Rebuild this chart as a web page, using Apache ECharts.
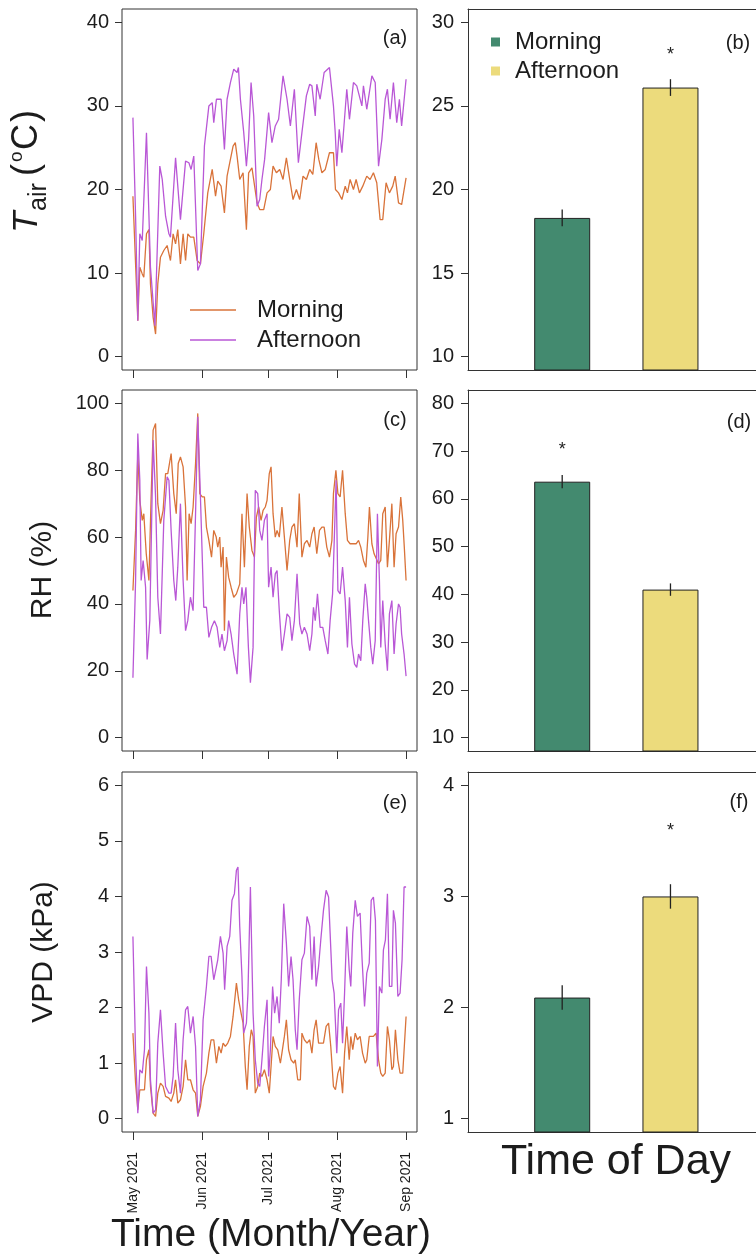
<!DOCTYPE html>
<html><head><meta charset="utf-8">
<script src="https://cdn.jsdelivr.net/npm/echarts@6/dist/echarts.min.js"></script>
<style>html,body{margin:0;padding:0;background:#fff}#c{width:756px;height:1256px}</style>
</head><body><div id="c"></div><script>
// ---- time axis (days since 1 May 2021) ----
const monthTicks = [0, 31, 61, 92, 123];
const monthLabels = ['May 2021', 'Jun 2021', 'Jul 2021', 'Aug 2021', 'Sep 2021'];

// ---- daily series [day, value] ----
const tairMorning = [[0,19.2],[2.2,4.3],[3.1,10.7],[4.2,9.9],[4.9,9.5],[6.1,14.7],[7.2,15.2],[7.9,8.7],[9.1,4.7],[10.2,2.7],[11.2,8.7],[12.4,11.9],[13.9,12.7],[15.4,13.3],[16.9,11.5],[18.1,14.7],[19.2,13.5],[20.2,15.2],[21.4,11.1],[22.6,14.7],[23.7,11.5],[24.7,14.7],[25.9,14.3],[27.4,14.3],[28.9,11.5],[30.4,11.1],[31.9,14.7],[33.7,19.6],[35.7,22.4],[37.2,19.2],[38.2,21.0],[39.7,20.4],[41.2,17.2],[42.4,21.6],[43.9,23.6],[45.1,25.2],[46.1,25.6],[46.9,24.0],[48.1,21.2],[49.6,22.0],[51.1,15.2],[52.1,22.0],[53.6,22.6],[54.8,20.4],[55.9,18.4],[57.1,17.6],[58.9,17.6],[60.4,19.6],[61.9,20.0],[63.1,22.8],[64.6,22.0],[66.1,22.4],[67.6,21.2],[69.1,23.8],[70.6,21.2],[72.1,18.8],[73.6,20.0],[75.1,18.8],[76.6,21.6],[78.1,21.2],[79.6,22.4],[81.0,21.8],[82.5,25.6],[83.7,23.6],[85.1,22.0],[86.6,22.4],[88.5,24.4],[90.3,24.4],[91.2,20.0],[92.6,19.6],[94.1,18.8],[95.6,20.4],[96.6,19.6],[97.8,21.2],[99.3,20.0],[100.5,21.2],[102.0,19.6],[103.5,20.4],[105.3,21.6],[106.8,21.2],[108.3,22.0],[109.8,20.8],[111.3,16.4],[112.5,16.4],[114.0,20.8],[115.5,19.6],[117.0,20.4],[118.1,21.6],[119.6,18.4],[121.0,18.2],[123,21.4]];
const tairAfternoon = [[0,28.6],[1.2,16.8],[2.2,4.3],[3.1,14.7],[4.2,13.9],[6.1,26.8],[7.9,10.7],[9.9,3.7],[12.1,22.8],[13.2,21.2],[14.7,16.8],[16.2,14.7],[16.9,14.3],[19.2,23.8],[20.2,20.4],[21.4,16.4],[23.7,23.4],[25.2,23.2],[26.2,22.4],[27.4,24.0],[29.2,10.3],[30.4,11.1],[32.2,25.2],[34.2,30.0],[35.7,30.4],[36.4,28.0],[37.6,30.8],[39.7,30.8],[41.2,24.8],[42.4,30.8],[43.9,32.8],[45.4,34.4],[46.9,34.0],[47.5,34.6],[48.4,30.8],[49.9,26.8],[51.1,22.8],[52.1,26.0],[53.2,32.8],[54.4,28.8],[55.9,18.0],[57.1,18.8],[58.1,21.2],[59.3,23.6],[61.1,29.2],[62.6,25.6],[64.1,27.6],[65.6,28.4],[67.6,33.6],[69.4,30.8],[70.9,27.6],[72.7,32.0],[74.5,23.2],[76.1,26.8],[78.1,31.2],[79.6,32.6],[80.6,32.4],[82.1,28.8],[82.8,32.6],[84.3,30.8],[86.1,34.0],[88.5,34.6],[90.3,30.0],[91.1,26.8],[91.8,22.8],[92.9,27.2],[94.1,24.4],[96.3,32.0],[97.5,28.4],[99.3,32.8],[100.8,32.4],[103.1,30.0],[103.8,32.4],[105.3,29.6],[107.6,33.6],[109.1,32.8],[110.6,22.8],[112.1,26.0],[113.6,30.8],[114.6,32.0],[115.8,28.4],[117.3,32.8],[118.8,28.0],[120.0,30.8],[121.0,27.6],[123,33.2]];
const rhMorning = [[0,44],[1.2,62],[2.2,85],[3.1,71],[4.2,65],[4.9,67],[6.0,55],[7.2,47],[8.2,72],[9.1,92],[10.2,94],[11.2,70],[12.4,64],[13.6,68],[14.7,79],[15.7,79],[17.2,85],[18.4,73],[19.5,67],[20.4,82],[21.4,84],[22.6,81],[23.7,69],[24.4,47],[25.3,67],[26.2,64],[27.1,69],[28.2,82],[29.2,97],[30.1,73],[31.2,72],[32.2,72],[33.1,63],[34.2,59],[35.4,54],[36.4,62],[37.5,60],[38.2,57],[39.1,60],[39.7,51],[40.6,57],[41.2,32],[42.1,54],[43.1,48],[44.2,45],[45.4,42],[46.6,43],[48.1,46],[49.1,67],[50.2,51],[51.4,73],[52.4,63],[53.6,56],[54.7,54],[55.6,66],[56.6,69],[57.7,65],[58.6,68],[59.6,69],[60.4,71],[61.4,79],[62.2,81],[63.1,67],[64.1,60],[64.9,62],[65.9,60],[67.1,69],[68.2,60],[69.4,50],[70.6,59],[71.6,63],[72.7,64],[73.9,57],[74.9,73],[76.1,54],[77.2,58],[78.4,59],[79.6,57],[80.6,61],[81.6,63],[82.8,55],[84.0,62],[85.1,63],[86.1,63],[87.3,57],[88.5,54],[89.6,59],[90.3,73],[91.4,80],[92.3,73],[93.3,72],[94.4,80],[95.6,67],[96.6,59],[97.8,58],[99.3,58],[100.5,58],[101.6,59],[102.6,57],[103.8,53],[104.9,51],[105.8,60],[106.5,69],[107.6,58],[108.6,55],[109.5,55],[110.6,52],[111.6,53],[112.5,67],[113.6,69],[114.6,51],[115.5,59],[116.6,70],[117.6,51],[118.5,61],[119.6,63],[120.6,72],[121.5,65],[122.2,57],[123,47]];
const rhAfternoon = [[0,17.9],[1.2,47],[2.2,91],[3.1,77],[3.7,47],[4.6,53],[5.7,45],[6.4,23.4],[7.6,35],[9.1,89],[10.2,72],[11.2,42],[12.4,31],[13.9,65],[15.4,78],[16.2,77],[17.2,62],[18.4,47],[19.3,41],[20.2,51],[21.4,70],[22.6,47],[23.7,32],[24.7,35],[25.9,42],[27.1,38],[28.2,67],[29.2,96],[30.4,72],[31.9,39],[33.1,39],[34.2,30],[35.4,33],[36.7,35],[37.9,33],[39.1,27],[40.1,31],[41.2,26],[42.4,29],[43.1,35],[44.2,31],[45.4,25],[46.9,19],[48.1,37],[49.1,45],[49.9,40],[50.9,45],[52.0,27],[52.9,16.4],[54.1,27],[55.1,74],[56.2,73],[57.1,62],[58.1,59],[59.2,65],[60.4,67],[61.1,45],[62.2,51],[63.1,42],[64.1,49],[64.9,50],[65.9,38],[67.1,26],[68.2,31],[69.4,37],[70.6,36],[71.6,29],[72.7,35],[73.9,49],[75.1,34],[76.1,31],[77.2,33],[78.4,31],[79.6,26],[80.6,31],[81.3,39],[82.1,35],[83.1,43],[84.3,33],[85.5,33],[86.6,29],[87.8,25],[88.8,35],[89.9,43],[90.8,43],[91.5,77],[92.3,44],[93.3,43],[94.4,51],[95.6,41],[96.6,27],[97.5,42],[98.6,28],[99.8,22],[100.8,21],[101.6,25],[102.6,23],[103.5,35],[104.6,46],[105.3,42],[106.1,35],[107.1,27],[108.0,22],[109.1,29],[110.1,67],[111.0,47],[111.6,27],[112.5,41],[113.6,28],[114.6,20],[115.5,37],[116.6,41],[117.6,25],[118.5,34],[119.6,40],[120.3,39],[121.0,31],[122.1,25],[123,18.4]];
const vpdMorning = [[0,1.54],[1.2,0.64],[2.2,0.16],[3.1,0.52],[4.2,0.52],[5.2,0.52],[6.1,1.06],[7.2,1.24],[7.9,0.58],[9.1,0.1],[10.2,0.04],[11.2,0.46],[12.4,0.64],[13.6,0.58],[14.7,0.4],[16.2,0.37],[17.2,0.31],[18.4,0.46],[19.2,0.7],[20.2,0.28],[21.4,0.34],[22.6,0.58],[23.7,1.06],[24.7,0.7],[25.9,0.7],[27.1,0.52],[28.2,0.46],[29.2,0.04],[30.4,0.22],[31.6,0.58],[33.1,0.82],[34.2,1.18],[35.2,1.42],[36.4,1.42],[37.6,1.0],[38.7,1.3],[39.7,1.18],[40.6,1.36],[41.6,1.3],[42.7,1.36],[43.9,1.48],[45.1,1.84],[46.6,2.44],[47.6,2.14],[48.7,1.9],[49.6,1.72],[50.6,0.94],[51.4,0.52],[52.4,1.3],[53.3,1.6],[54.1,1.48],[55.1,0.46],[56.2,0.58],[57.1,0.82],[58.1,0.76],[59.2,0.88],[60.4,0.7],[61.4,0.46],[62.2,0.94],[63.1,1.48],[64.1,1.3],[65.2,1.24],[66.4,1.0],[67.1,1.18],[68.2,1.48],[69.1,1.78],[70.1,1.24],[71.2,1.06],[72.4,1.0],[73.1,1.06],[74.2,0.7],[75.4,0.7],[76.1,1.54],[77.2,1.42],[78.4,1.36],[79.6,1.42],[80.6,1.18],[81.6,1.6],[82.5,1.78],[83.6,1.36],[84.6,1.36],[85.8,1.36],[87.0,1.66],[88.1,1.72],[89.1,1.3],[90.3,0.58],[91.2,0.52],[92.3,0.82],[93.3,0.94],[94.4,0.46],[95.3,1.18],[96.3,1.66],[97.4,1.06],[98.1,1.48],[99.0,1.24],[100.1,1.54],[101.1,1.42],[102.3,1.48],[103.4,1.18],[104.6,1.0],[105.3,1.06],[106.4,1.48],[107.3,1.48],[108.3,1.48],[109.5,1.54],[110.6,1.06],[111.6,0.82],[112.5,0.76],[113.6,0.82],[114.6,1.66],[115.5,1.42],[116.6,0.88],[117.3,0.94],[118.2,1.6],[119.3,1.06],[120.3,0.82],[121.5,0.82],[123,1.84]];
const vpdAfternoon = [[0,3.28],[1.2,1.18],[2.2,0.1],[3.1,0.88],[4.2,0.82],[5.2,1.24],[6.1,2.74],[7.2,1.9],[7.9,0.7],[9.1,0.1],[10.2,0.16],[11.2,1.36],[12.4,1.96],[13.6,1.18],[14.7,0.58],[16.2,0.46],[17.2,0.46],[18.1,0.76],[19.2,1.72],[20.2,0.88],[21.4,0.46],[22.6,1.42],[23.7,1.96],[24.7,2.02],[25.9,1.54],[27.1,1.84],[28.2,1.3],[29.2,0.04],[30.4,0.34],[31.6,1.78],[33.1,2.38],[34.2,2.92],[35.2,2.92],[36.4,2.5],[37.2,2.5],[38.2,2.86],[39.4,3.28],[40.6,2.98],[41.3,2.32],[42.4,3.1],[43.6,3.28],[44.6,3.93],[45.7,4.05],[46.6,4.47],[47.3,4.53],[48.1,3.46],[49.1,2.56],[49.9,1.54],[51.1,1.72],[51.8,2.26],[52.9,4.17],[54.1,1.9],[55.1,1.06],[56.2,0.64],[57.1,0.58],[58.1,1.06],[59.2,1.66],[60.4,2.14],[61.1,0.76],[61.9,1.24],[62.9,2.38],[63.8,1.9],[64.9,2.2],[65.9,1.72],[66.8,2.5],[67.9,3.87],[69.1,3.16],[70.1,2.38],[71.2,2.92],[72.1,2.5],[73.1,1.6],[73.9,1.24],[74.9,2.14],[76.1,2.86],[77.2,2.98],[78.4,3.64],[79.6,3.46],[80.6,2.5],[81.6,3.28],[82.5,2.38],[83.6,2.74],[84.6,3.22],[85.8,3.75],[87.0,4.11],[88.1,3.99],[88.8,3.34],[89.7,2.5],[90.6,2.26],[91.8,1.18],[92.6,1.96],[93.6,2.08],[94.4,1.36],[95.3,2.26],[96.3,3.46],[97.4,2.68],[98.1,2.38],[99.0,3.34],[100.1,3.93],[101.1,3.64],[102.3,3.7],[103.2,2.86],[104.3,2.02],[105.3,2.62],[106.4,2.8],[107.3,3.93],[108.3,3.99],[109.2,3.57],[110.1,0.94],[111.0,2.38],[112.1,2.26],[112.8,3.04],[113.7,3.22],[114.6,4.05],[115.5,2.38],[116.6,2.38],[117.3,3.75],[118.2,3.52],[119.3,2.2],[120.3,2.26],[121.2,2.86],[122.1,4.17],[123,4.17]];

// ---- period means (bar panels) ----
const timeOfDay = ['Morning', 'Afternoon'];
const barPos = [1, 2];
const tairMean = [18.3, 26.1];
const tairErr = [0.5, 0.5];
const tairStar = [null, 28.2];
const rhMean = [63.6, 41.0];
const rhErr = [1.4, 1.3];
const rhStar = [70.9, null];
const vpdMean = [2.09, 3.0];
const vpdErr = [0.11, 0.11];
const vpdStar = [null, 3.62];

// ---- axis ticks ----
const tairTicks = [0, 10, 20, 30, 40];
const rhTicks = [0, 20, 40, 60, 80, 100];
const vpdTicks = [0, 1, 2, 3, 4, 5, 6];
const tairBarTicks = [10, 15, 20, 25, 30];
const rhBarTicks = [10, 20, 30, 40, 50, 60, 70, 80];
const vpdBarTicks = [1, 2, 3, 4];

const FONT = '"Liberation Sans", Arial, Helvetica, sans-serif';
const COL_M = '#d9733a', COL_A = '#b957d6';
const BAR_M = '#438a6f', BAR_A = '#ecdb7c';
const INK = '#1c1c1c';
const FRAME = '#333';

const rows = [{top: 9, height: 361}, {top: 390, height: 361}, {top: 772, height: 360}];
const grids = [];
rows.forEach(r => {
  grids.push({left: 122, width: 295, top: r.top, height: r.height, show: true, borderColor: FRAME, borderWidth: 1, backgroundColor: 'transparent'});
  grids.push({left: 468, right: 0, top: r.top, height: r.height, show: false});
});

function timeAxis(gi, showLabels) {
  return {
    type: 'value', gridIndex: gi, min: -4.92, max: 127.92, position: 'bottom',
    axisLine: {show: false, onZero: false}, splitLine: {show: false},
    axisTick: {show: true, customValues: monthTicks, length: 8, lineStyle: {color: FRAME, width: 1}},
    axisLabel: {show: showLabels, customValues: monthTicks, rotate: 90, margin: 20,
      fontSize: 14, fontFamily: FONT, color: INK,
      formatter: v => monthLabels[monthTicks.indexOf(v)] || ''}
  };
}
function barXAxis(gi, pos) {
  return {type: 'value', gridIndex: gi, min: 0.13, max: 2.79, position: pos,
    axisLine: {show: true, onZero: false, lineStyle: {color: FRAME, width: 1}},
    axisTick: {show: false}, axisLabel: {show: false}, splitLine: {show: false}};
}
function yAx(gi, min, max, ticks, margin, showLine) {
  return {
    type: 'value', gridIndex: gi, min: min, max: max, position: 'left',
    axisLine: {show: showLine, onZero: false, lineStyle: {color: FRAME, width: 1}}, splitLine: {show: false},
    axisTick: {show: true, customValues: ticks, length: 7, lineStyle: {color: FRAME, width: 1}},
    axisLabel: {show: true, customValues: ticks, margin: margin, fontSize: 20, fontFamily: FONT, color: INK}
  };
}

const xAxes = [
  timeAxis(0, false), barXAxis(1, 'bottom'), timeAxis(2, false), barXAxis(3, 'bottom'), timeAxis(4, true), barXAxis(5, 'bottom'),
  barXAxis(1, 'top'), barXAxis(3, 'top'), barXAxis(5, 'top')
];
const yAxes = [
  yAx(0, -1.6, 41.6, tairTicks, 13, false), yAx(1, 9.2, 30.8, tairBarTicks, 14, true),
  yAx(2, -4, 104, rhTicks, 13, false), yAx(3, 7.2, 82.8, rhBarTicks, 14, true),
  yAx(4, -0.24, 6.24, vpdTicks, 13, false), yAx(5, 0.88, 4.12, vpdBarTicks, 14, true)
];

function lineSeries(name, idx, data, color) {
  return {type: 'line', name: name, xAxisIndex: idx, yAxisIndex: idx, data: data,
    symbol: 'none', showSymbol: false, smooth: false, animation: false,
    lineStyle: {color: color, width: 1.3}, itemStyle: {color: color}};
}
function barSeries(name, idx, pos, val, color) {
  return {type: 'bar', name: name, xAxisIndex: idx, yAxisIndex: idx, data: [[pos, val]],
    barWidth: 56, barGap: '-100%', animation: false, z: 2,
    itemStyle: {color: color, borderColor: '#222', borderWidth: 1}};
}
function errSeries(idx, means, errs) {
  return {type: 'custom', xAxisIndex: idx, yAxisIndex: idx, silent: true, animation: false, z: 10,
    encode: {x: 0, y: 1}, clip: false,
    data: means.map((m, i) => [barPos[i], m, errs[i]]),
    renderItem: (params, api) => {
      const x = api.value(0), m = api.value(1), e = api.value(2);
      const p1 = api.coord([x, m - e]), p2 = api.coord([x, m + e]);
      return {type: 'line', z2: 10, shape: {x1: p1[0], y1: p1[1], x2: p2[0], y2: p2[1]}, style: {stroke: '#222', lineWidth: 1.3}};
    }};
}
function starSeries(idx, stars) {
  const d = [];
  stars.forEach((s, i) => { if (s !== null) d.push([barPos[i], s]); });
  return {type: 'custom', xAxisIndex: idx, yAxisIndex: idx, silent: true, animation: false, z: 10,
    encode: {x: 0, y: 1}, data: d,
    renderItem: (params, api) => {
      const p = api.coord([api.value(0), api.value(1)]);
      return {type: 'text', x: p[0], y: p[1] + 3,
        style: {text: '*', fill: '#222', font: '18px ' + FONT, align: 'center', verticalAlign: 'middle', textAlign: 'center', textVerticalAlign: 'middle'}};
    }};
}

const series = [
  lineSeries('Morning', 0, tairMorning, COL_M),
  lineSeries('Afternoon', 0, tairAfternoon, COL_A),
  lineSeries('Morning', 2, rhMorning, COL_M),
  lineSeries('Afternoon', 2, rhAfternoon, COL_A),
  lineSeries('Morning', 4, vpdMorning, COL_M),
  lineSeries('Afternoon', 4, vpdAfternoon, COL_A),
  barSeries(timeOfDay[0], 1, barPos[0], tairMean[0], BAR_M),
  barSeries(timeOfDay[1], 1, barPos[1], tairMean[1], BAR_A),
  barSeries(timeOfDay[0], 3, barPos[0], rhMean[0], BAR_M),
  barSeries(timeOfDay[1], 3, barPos[1], rhMean[1], BAR_A),
  barSeries(timeOfDay[0], 5, barPos[0], vpdMean[0], BAR_M),
  barSeries(timeOfDay[1], 5, barPos[1], vpdMean[1], BAR_A),
  errSeries(1, tairMean, tairErr), errSeries(3, rhMean, rhErr), errSeries(5, vpdMean, vpdErr),
  starSeries(1, tairStar), starSeries(3, rhStar), starSeries(5, vpdStar)
];

const legends = [
  {orient: 'vertical', left: 185, top: 293, itemWidth: 46, itemHeight: 1.4, itemGap: 6, selectedMode: false,
   data: [
     {name: 'Morning', icon: 'rect', itemStyle: {color: COL_M, borderWidth: 0, borderColor: COL_M}},
     {name: 'Afternoon', icon: 'rect', itemStyle: {color: COL_A, borderWidth: 0, borderColor: COL_A}}
   ],
   textStyle: {fontSize: 24, lineHeight: 24, fontFamily: FONT, color: INK, padding: [0, 0, 0, 16]}},
  {orient: 'vertical', left: 486, top: 25, itemWidth: 9, itemHeight: 9, itemGap: 5, selectedMode: false,
   data: [
     {name: 'Morning', icon: 'rect', itemStyle: {color: BAR_M, borderWidth: 0, borderColor: BAR_M}},
     {name: 'Afternoon', icon: 'rect', itemStyle: {color: BAR_A, borderWidth: 0, borderColor: BAR_A}}
   ],
   textStyle: {fontSize: 24, lineHeight: 24, fontFamily: FONT, color: INK, padding: [0, 0, 0, 10]}}
];

function txt(x, y, s, size, opts) {
  return Object.assign({type: 'text', x: x, y: y, silent: true,
    style: {text: s, font: size + 'px ' + FONT, fill: INK, align: 'center', verticalAlign: 'middle', textAlign: 'center', textVerticalAlign: 'middle'}}, opts || {});
}
function ltxt(x, y, s, font) {
  return {type: 'text', x: x, y: y, silent: true,
    style: {text: s, font: font, fill: INK, align: 'left', verticalAlign: 'middle', textAlign: 'left', textVerticalAlign: 'middle'}};
}

const graphics = [
  txt(395, 38, '(a)', 20), txt(738, 43, '(b)', 20),
  txt(395, 420, '(c)', 20), txt(739, 422, '(d)', 20),
  txt(395, 803, '(e)', 20), txt(739, 802, '(f)', 20),
  // y titles
  {type: 'group', x: 37, y: 233, rotation: Math.PI / 2, silent: true, children: [
    ltxt(0, -10, 'T', 'italic 35px ' + FONT),
    ltxt(22, 2, 'air', '25px ' + FONT),
    ltxt(57, -10, '(', '36px ' + FONT),
    ltxt(71, -20, 'o', '19px ' + FONT),
    ltxt(83, -10, 'C', '36px ' + FONT),
    ltxt(111, -10, ')', '36px ' + FONT)
  ]},
  txt(43, 570, 'RH (%)', 30, {rotation: Math.PI / 2}),
  txt(44, 952, 'VPD (kPa)', 30, {rotation: Math.PI / 2}),
  txt(271, 1235, 'Time (Month/Year)', 39),
  txt(616, 1162, 'Time of Day', 43)
];

const chart = echarts.init(document.getElementById('c'), null, {renderer: 'canvas', width: 756, height: 1256});
chart.setOption({
  animation: false,
  backgroundColor: '#ffffff',
  grid: grids, xAxis: xAxes, yAxis: yAxes,
  legend: legends,
  series: series,
  graphic: graphics
});
</script></body></html>
